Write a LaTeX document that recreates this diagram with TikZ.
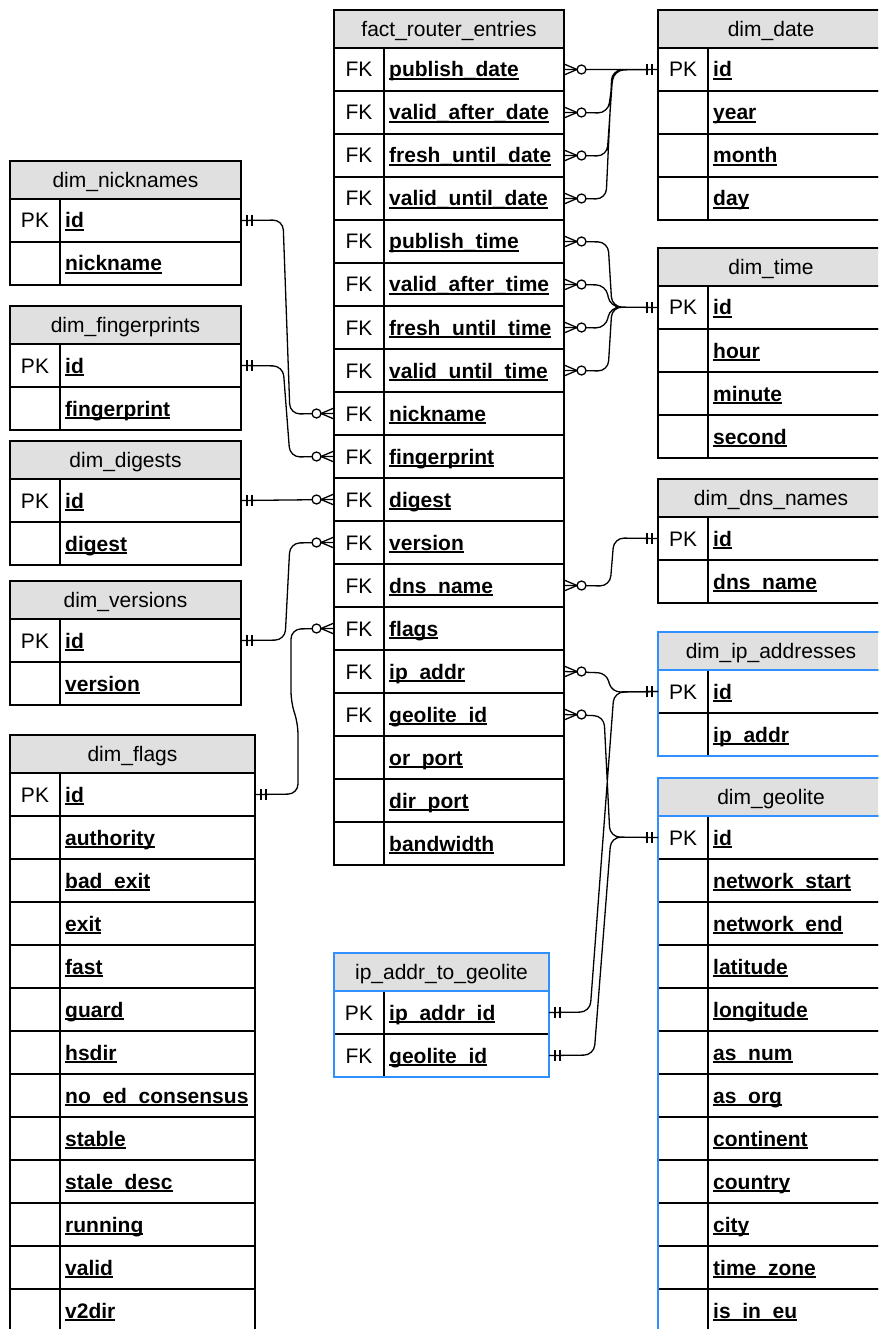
\documentclass[tikz,border=0pt]{standalone}
\usepackage{fontspec}
\setmainfont{Liberation Sans}
\usetikzlibrary{calc}

\definecolor{headgray}{RGB}{224,224,224}
\definecolor{tblblue}{RGB}{48,144,255}

\newcommand{\fieldul}[1]{%
    \setbox0=\hbox{\bfseries #1}\setbox2=\hbox{\bfseries\_}%
    \rlap{\rule[-\dp2]{\wd0}{1.9pt}}\box0}

\newcommand{\erdtable}[5]{%
    \node [tablehead, minimum width = #3, anchor = north west] (#1) at (#2) {#4};
    \foreach \k/\f [count = \i] in {#5} {
        \node [tablerow, minimum width = #3, anchor = north west] (#1-\i)
            at ($(#1.south west) + (0, {(\i - 1) * 43})$) {};
        \node [keytext, anchor = base] (#1-\i-k) at ($(#1-\i.west) + (25, 7.5)$) {\k};
        \node [fieldtext, anchor = base west] (#1-\i-f) at ($(#1-\i.west) + (55, 7.5)$) {\fieldul{\f}};
        \draw [tableline] ($(#1-\i.north west) + (50, 0)$) -- ($(#1-\i.south west) + (50, 0)$);
    }
}

\newcommand{\onemark}[2]{%
    \draw [endmark]
        ($(#1) + (#2 * 6, -5.5)$) -- ++(0, 11)
        ($(#1) + (#2 * 11, -5.5)$) -- ++(0, 11)
    ;
}

\newcommand{\manymark}[2]{%
    \draw [endmark]
        ($(#1) + (0, -5.5)$) -- ($(#1) + (#2 * 13, 0)$) -- ($(#1) + (0, 5.5)$)
    ;
    \draw [endmark, fill = white] ($(#1) + (#2 * 17.5, 0)$) circle [radius = 4.5pt];
}

\tikzset{
    tableline/.style = {line width = 1.5pt},
    tablehead/.style = {draw, tableline, fill = headgray, minimum height = 38pt,
        inner sep = 0pt, outer sep = 0pt, text height = 15pt, text depth = 0pt},
    tablerow/.style = {draw, tableline, minimum height = 43pt, inner sep = 0pt, outer sep = 0pt},
    keytext/.style = {inner sep = 0pt},
    fieldtext/.style = {inner sep = 0pt},
    blueframe/.style = {draw = tblblue, line width = 1.6pt},
    link/.style = {line width = 1.3pt, rounded corners = 10pt},
    endmark/.style = {line width = 1.3pt}
}

\begin{document}
\begin{tikzpicture}[x = 1pt, y = -1pt, font = \fontsize{21}{25}\selectfont]
    \useasboundingbox (0, 0) rectangle (878, 1329);
    \clip (0, 0) rectangle (878, 1329);

    \erdtable{fre}{334, 10}{230pt}{fact\_router\_entries}{FK/publish\_date, FK/valid\_after\_date,
        FK/fresh\_until\_date, FK/valid\_until\_date, FK/publish\_time, FK/valid\_after\_time,
        FK/fresh\_until\_time, FK/valid\_until\_time, FK/nickname, FK/fingerprint, FK/digest,
        FK/version, FK/dns\_name, FK/flags, FK/ip\_addr, FK/geolite\_id, /or\_port, /dir\_port,
        /bandwidth}

    \erdtable{dd}{658, 10}{226pt}{dim\_date}{PK/id, /year, /month, /day}
    \erdtable{dt}{658, 248}{226pt}{dim\_time}{PK/id, /hour, /minute, /second}
    \erdtable{ddn}{658, 479}{226pt}{dim\_dns\_names}{PK/id, /dns\_name}
    \erdtable{dip}{658, 632}{226pt}{dim\_ip\_addresses}{PK/id, /ip\_addr}
    \erdtable{dgl}{658, 778}{226pt}{dim\_geolite}{PK/id, /network\_start, /network\_end,
        /latitude, /longitude, /as\_num, /as\_org, /continent, /country, /city, /time\_zone,
        /is\_in\_eu}

    \erdtable{dnk}{10, 161}{231pt}{dim\_nicknames}{PK/id, /nickname}
    \erdtable{dfp}{10, 306}{231pt}{dim\_fingerprints}{PK/id, /fingerprint}
    \erdtable{ddg}{10, 441}{231pt}{dim\_digests}{PK/id, /digest}
    \erdtable{dvr}{10, 581}{231pt}{dim\_versions}{PK/id, /version}
    \erdtable{dfl}{10, 735}{245pt}{dim\_flags}{PK/id, /authority, /bad\_exit, /exit, /fast,
        /guard, /hsdir, /no\_ed\_consensus, /stable, /stale\_desc, /running, /valid, /v2dir}

    \erdtable{ipg}{334, 953}{215pt}{ip\_addr\_to\_geolite}{PK/ip\_addr\_id, FK/geolite\_id}

    \draw [blueframe]
        (dip.north west) rectangle (dip-2.south east) (dip.south west) -- (dip.south east)
        (dgl.north west) rectangle (dgl-12.south east) (dgl.south west) -- (dgl.south east)
        (ipg.north west) rectangle (ipg-2.south east) (ipg.south west) -- (ipg.south east)
    ;

    \draw [link]
        (fre-1.east) -- (dd-1.west)
        (fre-2.east) -- (608, 113) -- (614, 70) -- (dd-1.west)
        (fre-3.east) -- (607, 156) -- (613, 70) -- (dd-1.west)
        (fre-4.east) -- (606, 199) -- (612, 70) -- (dd-1.west)

        (fre-5.east) -- (608, 242) -- (612, 307) -- (dt-1.west)
        (fre-6.east) -- (606, 285) -- (610, 307) -- (dt-1.west)
        (fre-7.east) -- (606, 328) -- (610, 307) -- (dt-1.west)
        (fre-8.east) -- (608, 371) -- (612, 307) -- (dt-1.west)

        (fre-13.east) -- (610, 586) -- (614, 538) -- (ddn-1.west)

        (fre-16.east) -- (604, 716) -- (610, 837) -- (dgl-1.west)
        (ipg-1.east) -- (590, 1012) -- (614, 692) -- (dip-1.west)
        (ipg-2.east) -- (594, 1055) -- (611, 837) -- (dgl-1.west)

        (dnk-1.east) -- (283, 220) -- (290, 414) -- (fre-9.west)
        (dfp-1.east) -- (283, 366) -- (290, 457) -- (fre-10.west)
        (ddg-1.east) -- (fre-11.west)
        (dvr-1.east) -- (285, 640) -- (290, 543) -- (fre-12.west)
        (dfl-1.east) -- (298, 794) -- (298, 724) -- (291, 702) -- (291, 629) -- (fre-14.west)
    ;
    \draw [link, rounded corners = 8pt]
        (fre-15.east) -- (606, 673) -- (612, 692) -- (dip-1.west)
    ;

    \foreach \r in {1, ..., 8, 13, 15, 16} {\manymark{fre-\r.east}{1}}
    \foreach \r in {9, ..., 12, 14} {\manymark{fre-\r.west}{-1}}

    \foreach \t in {dd, dt, ddn, dip, dgl} {\onemark{\t-1.west}{-1}}
    \foreach \t in {dnk, dfp, ddg, dvr, dfl} {\onemark{\t-1.east}{1}}
    \onemark{ipg-1.east}{1}
    \onemark{ipg-2.east}{1}
\end{tikzpicture}
\end{document}
